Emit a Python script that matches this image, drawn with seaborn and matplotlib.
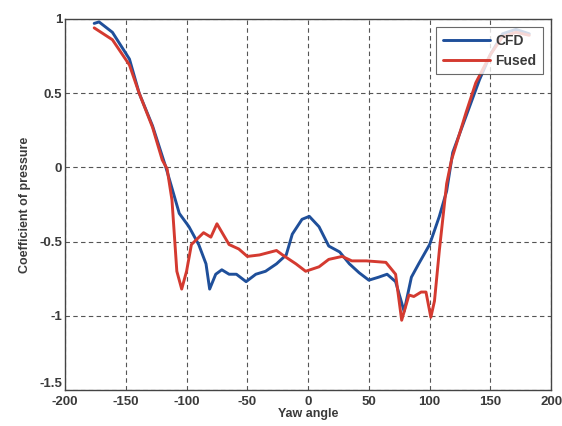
import numpy as np
import pandas as pd
import matplotlib
matplotlib.use("Agg")
import matplotlib.pyplot as plt
import seaborn as sns

# Pressure coefficient vs yaw angle for the two data sources
cfd_yaw = [-176, -172, -161, -147, -139, -128, -117, -112, -106, -98, -90, -84, -81,
           -76, -71, -65, -59, -51, -43, -35, -26, -18, -13, -5, 1, 9, 17, 26, 34,
           42, 50, 58, 65, 72, 79, 85, 91, 100, 108, 114, 119, 132, 141, 150, 160,
           171, 182]
cfd_cp = [0.97, 0.98, 0.91, 0.73, 0.50, 0.28, 0.00, -0.14, -0.31, -0.40, -0.52, -0.65,
          -0.82, -0.72, -0.69, -0.72, -0.72, -0.77, -0.72, -0.70, -0.65, -0.59, -0.45,
          -0.35, -0.33, -0.40, -0.53, -0.57, -0.65, -0.71, -0.76, -0.74, -0.72, -0.77,
          -0.97, -0.74, -0.65, -0.52, -0.33, -0.16, 0.10, 0.39, 0.59, 0.76, 0.90,
          0.93, 0.90]

fused_yaw = [-176, -161, -147, -139, -128, -120, -116, -112, -108, -104, -100, -96,
             -86, -80, -75, -65, -57, -50, -40, -26, -21, -10, -2, 9, 17, 28, 36, 48,
             64, 72, 77, 83, 87, 93, 97, 101, 104, 108, 114, 118, 130, 138, 150, 160,
             171, 182]
fused_cp = [0.94, 0.86, 0.69, 0.50, 0.27, 0.05, -0.01, -0.22, -0.70, -0.82, -0.70,
            -0.52, -0.44, -0.47, -0.38, -0.52, -0.55, -0.60, -0.59, -0.56, -0.59,
            -0.65, -0.70, -0.67, -0.62, -0.60, -0.63, -0.63, -0.64, -0.72, -1.03,
            -0.86, -0.87, -0.84, -0.84, -1.01, -0.90, -0.56, -0.11, 0.05, 0.37, 0.57,
            0.76, 0.88, 0.91, 0.89]

series_names = ["CFD", "Fused"]
series_colors = ["#1f4f9a", "#d43a30"]
x_ticks = [-200, -150, -100, -50, 0, 50, 100, 150, 200]
y_ticks = [-1.5, -1, -0.5, 0, 0.5, 1]
y_tick_labels = ["-1.5", "-1", "-0.5", "0", "0.5", "1"]

df = pd.concat([
    pd.DataFrame({"Yaw angle": cfd_yaw, "Cp": cfd_cp, "Source": "CFD"}),
    pd.DataFrame({"Yaw angle": fused_yaw, "Cp": fused_cp, "Source": "Fused"}),
], ignore_index=True)

sns.set_style("white")
plt.rcParams["font.family"] = ["Liberation Sans", "DejaVu Sans"]
plt.rcParams["font.weight"] = "bold"
plt.rcParams["axes.labelweight"] = "bold"

fig = plt.figure(figsize=(5.62, 4.26), dpi=100)
ax = fig.add_axes([0.1157, 0.0845, 0.865, 0.871])

sns.lineplot(data=df, x="Yaw angle", y="Cp", hue="Source", hue_order=series_names,
             palette=series_colors, linewidth=2.1, estimator=None, sort=False, ax=ax)

ax.set_xlim(-200, 200)
ax.set_ylim(-1.5, 1)
ax.set_xticks(x_ticks)
ax.set_xticklabels([str(t) for t in x_ticks])
ax.set_yticks(y_ticks)
ax.set_yticklabels(y_tick_labels)
ax.grid(True, linestyle=(0, (4, 3)), color="#555555", linewidth=0.8)
for s in ax.spines.values():
    s.set_color("#444444")
    s.set_linewidth(1.0)
ax.tick_params(axis="both", direction="in", length=3, labelsize=9.5,
               colors="#3a3a3a")
ax.tick_params(axis="x", pad=4)
ax.tick_params(axis="y", pad=2)
# lift the bottom y label a little so it clears the corner x label
ax.get_yticklabels()[0].set_verticalalignment("bottom")

ax.set_xlabel("Yaw angle", fontsize=9, color="#3a3a3a", labelpad=0,
              fontweight="bold")
ax.set_ylabel("Coefficient of pressure", fontsize=9, color="#3a3a3a", labelpad=6,
              fontweight="bold")

leg = ax.legend(loc="upper right", fontsize=10, frameon=True, fancybox=False,
                handlelength=3.4, borderaxespad=0.6, labelspacing=0.45,
                borderpad=0.45, handletextpad=0.4)
leg.get_frame().set_edgecolor("#444444")
leg.get_frame().set_linewidth(0.8)
for t in leg.get_texts():
    t.set_color("#3a3a3a")

fig.savefig("out.png", dpi=100)
